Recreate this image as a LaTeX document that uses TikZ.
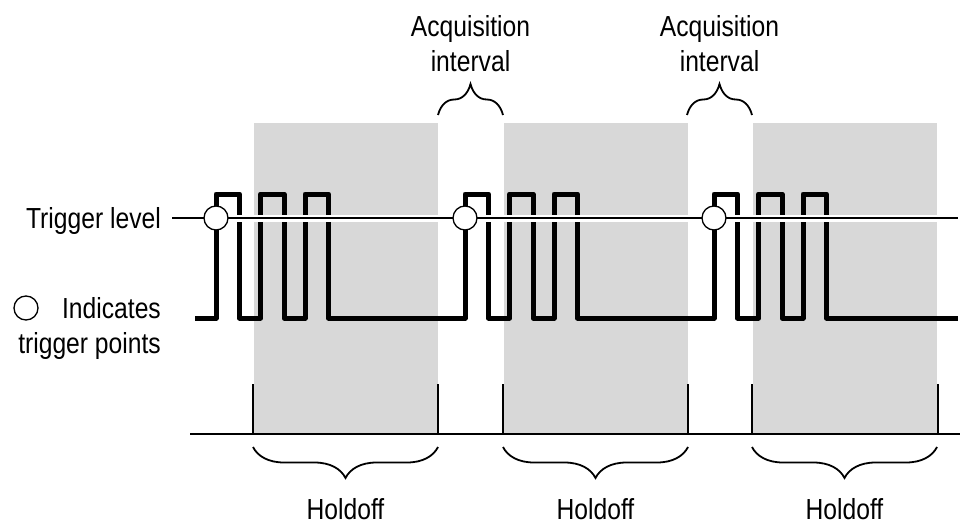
\documentclass[tikz,border=0pt]{standalone}
\usepackage{fontspec}
\setmainfont{Liberation Sans}[FakeStretch=0.85]
\usetikzlibrary{decorations.pathreplacing}
\definecolor{holdgray}{RGB}{216,216,216}
\tikzset{
  lbl/.style={inner sep=0pt, font=\fontsize{29}{35}\selectfont},
  signal/.style={line width=5pt, line join=round},
  bracedown/.style={decorate, decoration={brace, amplitude=31pt}, line width=1.8pt},
  trigpt/.style={circle, draw, fill=white, line width=1.3pt, minimum size=24pt, inner sep=0pt}
}
\begin{document}
\begin{tikzpicture}[x=1pt,y=-1pt]
  \useasboundingbox (0,0) rectangle (965,527);
  % Holdoff areas
  \foreach \g in {0,249.5,499} {
    \fill[holdgray] (254+\g,123) rectangle (438+\g,434);
  }
  % Bottom line with holdoff marks
  \draw[line width=2.8pt] (190,434) -- (960,434);
  \foreach \x in {253,438,503,688,752,938} {
    \draw[line width=2.8pt] (\x,384) -- (\x,434);
  }
  % Pulse train
  \draw[signal] (195,318)
    \foreach \g in {0,249,498} {
      \foreach \p in {0,44.5,89} {
        -- (216+\g+\p,318) -- ++(0,-124) -- ++(23.5,0) -- ++(0,124)
      }
    } -- (958,318);
  % Trigger level line
  \draw[white, line width=7pt] (172,218) -- (958,218);
  \draw[line width=1.4pt] (172,218) -- (958,218);
  \node[lbl, anchor=base east] (trig) at (161,228) {Trigger level};
  % Trigger points
  \foreach \g/\n in {0/1, 249/2, 498/3} {
    \node[trigpt] (tp\n) at (216+\g,218) {};
  }
  % Legend
  \node[trigpt] (legpt) at (26,308) {};
  \node[lbl, align=right, anchor=north east] (legtxt) at (161,297) {Indicates\\trigger points};
  % Acquisition intervals
  \foreach \x/\n in {438/1, 687/2} {
    \draw[bracedown] (\x,115) -- (\x+65,115);
    \node[lbl, align=center, anchor=north] (acq\n) at (\x+32.5,15) {Acquisition\\interval};
  }
  % Holdoff braces
  \foreach \x/\n in {253/1, 503/2, 752/3} {
    \draw[bracedown] (\x+185,447) -- (\x,447);
    \node[lbl, anchor=base] (hold\n) at (\x+92.5,519) {Holdoff};
  }
\end{tikzpicture}
\end{document}
